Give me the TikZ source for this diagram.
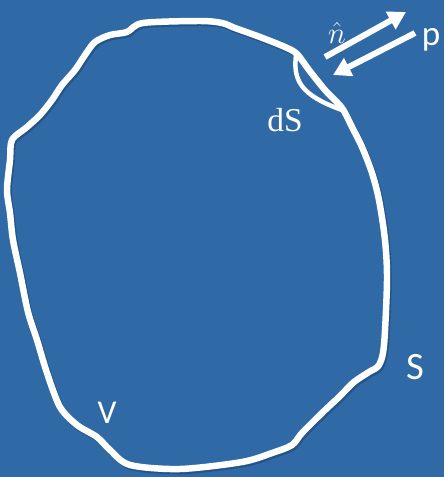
\documentclass[tikz,border=0pt]{standalone}
\usepackage{fontspec}
\newfontfamily\calibrifont{Carlito}
\newfontfamily\cambriafont{Liberation Serif}
\usetikzlibrary{arrows.meta}
\definecolor{slideblue}{RGB}{47,105,166}
\definecolor{shadeblue}{RGB}{30,70,115}
\tikzset{
  outline/.style={white, line width=6.5pt*0.567, line join=round, line cap=round},
  shadowline/.style={shadeblue, opacity=0.6, line width=6.5pt*0.567, line join=round},
  bigarrow/.style={white, line width=6pt*0.567, -{Triangle[length=10pt,width=11pt]}},
  label/.style={white, inner sep=0pt}
}
\begin{document}
\begin{tikzpicture}[x=0.02cm,y=-0.02cm]
                \fill[slideblue] (0,0) rectangle (444,477);
                % the surface S around the volume V
                \def\blob{(143,23) (200,21) (222,23) (235,28) (260,37) (285,47) (297,54)
                    (309,70) (325,90) (342,108) (352,127) (362,147) (372,173) (379,200)
                    (385,240) (387,280) (384,345) (379,365) (369,372) (354,382) (339,397)
                    (322,413) (302,433) (292,445) (272,453) (242,462) (180,469) (130,465)
                    (110,450) (97,437) (77,425) (60,407) (47,373) (37,340) (28,312)
                    (20,273) (13,240) (10,213) (7,190) (10,160) (12,140) (27,127)
                    (40,115) (52,100) (62,85) (75,70) (85,55) (95,42) (110,35) (127,32)}
                \begin{scope}[shift={(1.5,2)}]
                    \draw[shadowline] plot[smooth cycle, tension=0.5] coordinates {\blob};
                \end{scope}
                \draw[outline] plot[smooth cycle, tension=0.5] coordinates {\blob};
                % surface element dS
                \draw[outline, line width=4.5pt*0.567] (296,55) .. controls (293,80) and (300,95) .. (342,110);
                \draw[outline, line width=2pt*0.567] (305,67) -- (313,76);
                % normal and pressure
                \coordinate (ntail) at (325,57);
                \coordinate (nhead) at (406,12);
                \coordinate (ptail) at (415,33);
                \coordinate (phead) at (333,75);
                \draw[bigarrow] (ntail) -- (nhead);
                \draw[bigarrow] (ptail) -- (phead);
                \node[label, font=\fontsize{18}{18}\selectfont] (nhat) at (337,33) {$\hat{n}$};
                \node[label, font=\calibrifont\fontsize{20}{20}\selectfont] (p) at (431,40) {p};
                \node[label, font=\cambriafont\fontsize{19}{19}\selectfont] (dS) at (285,120) {dS};
                \node[label, font=\calibrifont\fontsize{19}{19}\selectfont] (V) at (107,413) {V};
                \node[label, font=\calibrifont\fontsize{22}{22}\selectfont] (S) at (415,367) {S};
            \end{tikzpicture}
\end{document}
